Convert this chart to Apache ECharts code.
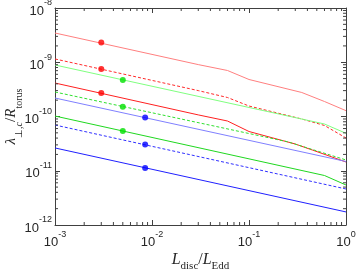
<!DOCTYPE html>
<html>
<head>
<meta charset="utf-8">
<script src="https://cdn.jsdelivr.net/npm/echarts@6/dist/echarts.min.js"></script>
<style>html,body{margin:0;padding:0;background:#fff}#c{width:357px;height:270px}</style>
</head>
<body>
<div id="c"></div>
<script>
// Data: [L_disc/L_Edd, lambda/R_torus]
const lightRedSolid = [[1e-3,3.46e-9],[0.03,9.05e-10],[0.06,7.05e-10],[0.1,4.81e-10],[0.35,2.77e-10],[0.6,1.89e-10],[1,1.28e-10]];
const redDashed = [[1e-3,1.15e-9],[0.03,3.0e-10],[0.06,2.24e-10],[0.1,1.56e-10],[0.35,9.0e-11],[0.6,6.83e-11],[1,4.02e-11]];
const lightGreenSolid = [[1e-3,8.9e-10],[0.6,7.27e-11],[1,4.9e-11]];
const redSolid = [[1e-3,4.14e-10],[0.03,1.07e-10],[0.06,8.26e-11],[0.1,5.29e-11],[0.3,3.11e-11],[0.45,2.41e-11],[1,1.45e-11]];
const greenDashed = [[1e-3,2.83e-10],[0.25,3.42e-11],[1,1.58e-11]];
const lightBlueSolid = [[1e-3,2.19e-10],[1,1.48e-11]];
const greenSolid = [[1e-3,1.02e-10],[0.6,8.17e-12],[1,5.46e-12]];
const blueDashed = [[1e-3,6.97e-11],[1,4.61e-12]];
const blueSolid = [[1e-3,2.63e-11],[1,1.74e-12]];

const redMarkers = [[3e-3,2.31e-9],[3e-3,7.51e-10],[3e-3,2.71e-10]];
const greenMarkers = [[5e-3,4.71e-10],[5e-3,1.52e-10],[5e-3,5.4e-11]];
const blueMarkers = [[8.5e-3,9.59e-11],[8.5e-3,3.05e-11],[8.5e-3,1.12e-11]];

const xMin = 1e-3, xMax = 1, yMin = 1e-12, yMax = 1e-8;
const xDecades = [-3,-2,-1];
const yDecades = [-12,-11,-10,-9];
const minorMult = [2,3,4,5,6,7,8,9];

const xMinor = [];
xDecades.forEach(n => minorMult.forEach(k => xMinor.push([k*Math.pow(10,n), yMin])));
const yMinor = [];
yDecades.forEach(n => minorMult.forEach(k => yMinor.push([xMin, k*Math.pow(10,n)])));

const axisColor = '#404040';
const tickFmt = v => '{b|10}{s|' + Math.round(Math.log10(v)) + '}';
const tickRich = {
  b: {fontSize: 13, fontFamily: 'Liberation Sans', color: '#262626', lineHeight: 19, verticalAlign: 'bottom'},
  s: {fontSize: 9, fontFamily: 'Liberation Sans', color: '#262626', lineHeight: 10, verticalAlign: 'top'}
};
function mkRich(big, small) {
  return {
    i: {fontSize: big, fontFamily: 'Liberation Serif', fontStyle: 'italic', color: '#262626', lineHeight: 20, verticalAlign: 'top'},
    r: {fontSize: big, fontFamily: 'Liberation Serif', color: '#262626', lineHeight: 20, verticalAlign: 'top'},
    sub: {fontSize: small, fontFamily: 'Liberation Serif', color: '#262626', lineHeight: 12, verticalAlign: 'bottom'},
    subi: {fontSize: small, fontFamily: 'Liberation Serif', fontStyle: 'italic', color: '#262626', lineHeight: 12, verticalAlign: 'bottom'}
  };
}

function mkAxis(pos, isX, show) {
  return {
    type: 'log', logBase: 10, position: pos,
    min: isX ? xMin : yMin, max: isX ? xMax : yMax,
    axisLine: {show: true, onZero: false, lineStyle: {color: axisColor, width: 1}},
    axisTick: {show: true, inside: true, length: 5, lineStyle: {color: axisColor, width: 1}},
    axisLabel: {show: show, formatter: tickFmt, rich: tickRich, margin: isX ? 5 : 3},
    splitLine: {show: false}
  };
}

const xMain = mkAxis('bottom', true, true);
xMain.name = '{i|L}{sub|disc}{r|/}{i|L}{sub|Edd}';
xMain.nameLocation = 'middle';
xMain.nameGap = 27;
xMain.nameMoveOverlap = false;
xMain.nameTextStyle = {rich: mkRich(16, 11)};
const yMain = mkAxis('left', false, true);
yMain.name = '{i|λ}{sub|⊥,}{subi|c}{r|/}{i|R}{sub|torus}';
yMain.nameLocation = 'middle';
yMain.nameGap = 31;
yMain.nameRotate = 90;
yMain.nameMoveOverlap = false;
yMain.nameTextStyle = {rich: mkRich(15, 10)};

function line(data, color, dashed, width) {
  return {
    type: 'line', data: data, xAxisIndex: 0, yAxisIndex: 0,
    showSymbol: false, symbol: 'none', silent: true, animation: false,
    lineStyle: {color: color, width: width || 1, type: dashed ? [3, 2] : 'solid'}
  };
}
function dots(data, color) {
  return {type: 'scatter', data: data, symbol: 'circle', symbolSize: 6,
    itemStyle: {color: color}, silent: true, animation: false, z: 5};
}
function minorTicks(data, isX) {
  return {
    type: 'custom', data: data, silent: true, animation: false, clip: false, z: 6,
    renderItem: function (params, api) {
      const L = 3;
      let a, b;
      if (isX) {
        a = api.coord([api.value(0), yMin]);
        b = api.coord([api.value(0), yMax]);
        return {type: 'group', children: [
          {type: 'line', shape: {x1: a[0], y1: a[1], x2: a[0], y2: a[1] - L}, style: {stroke: axisColor, lineWidth: 1}},
          {type: 'line', shape: {x1: b[0], y1: b[1], x2: b[0], y2: b[1] + L}, style: {stroke: axisColor, lineWidth: 1}}
        ]};
      } else {
        a = api.coord([xMin, api.value(1)]);
        b = api.coord([xMax, api.value(1)]);
        return {type: 'group', children: [
          {type: 'line', shape: {x1: a[0], y1: a[1], x2: a[0] + L, y2: a[1]}, style: {stroke: axisColor, lineWidth: 1}},
          {type: 'line', shape: {x1: b[0], y1: b[1], x2: b[0] - L, y2: b[1]}, style: {stroke: axisColor, lineWidth: 1}}
        ]};
      }
    }
  };
}

const chart = echarts.init(document.getElementById('c'), null, {renderer: 'canvas'});
chart.setOption({
  animation: false,
  backgroundColor: '#fff',
  grid: {left: 55, right: 11, top: 8, bottom: 45, containLabel: false, outerBoundsMode: 'none'},
  xAxis: [xMain, mkAxis('top', true, false)],
  yAxis: [yMain, mkAxis('right', false, false)],
  series: [
    line(lightRedSolid, '#ff8080'),
    line(redDashed, '#ff2a2a', true),
    line(lightGreenSolid, '#80ff80'),
    line(redSolid, '#ff2020'),
    line(greenDashed, '#30e030', true),
    line(lightBlueSolid, '#8080ff'),
    line(greenSolid, '#20d820'),
    line(blueDashed, '#3030ff', true),
    line(blueSolid, '#2020ff'),
    dots(redMarkers, '#ff0000'),
    dots(greenMarkers, '#00e000'),
    dots(blueMarkers, '#0000ff'),
    minorTicks(xMinor, true),
    minorTicks(yMinor, false)
  ]
});
</script>
</body>
</html>
